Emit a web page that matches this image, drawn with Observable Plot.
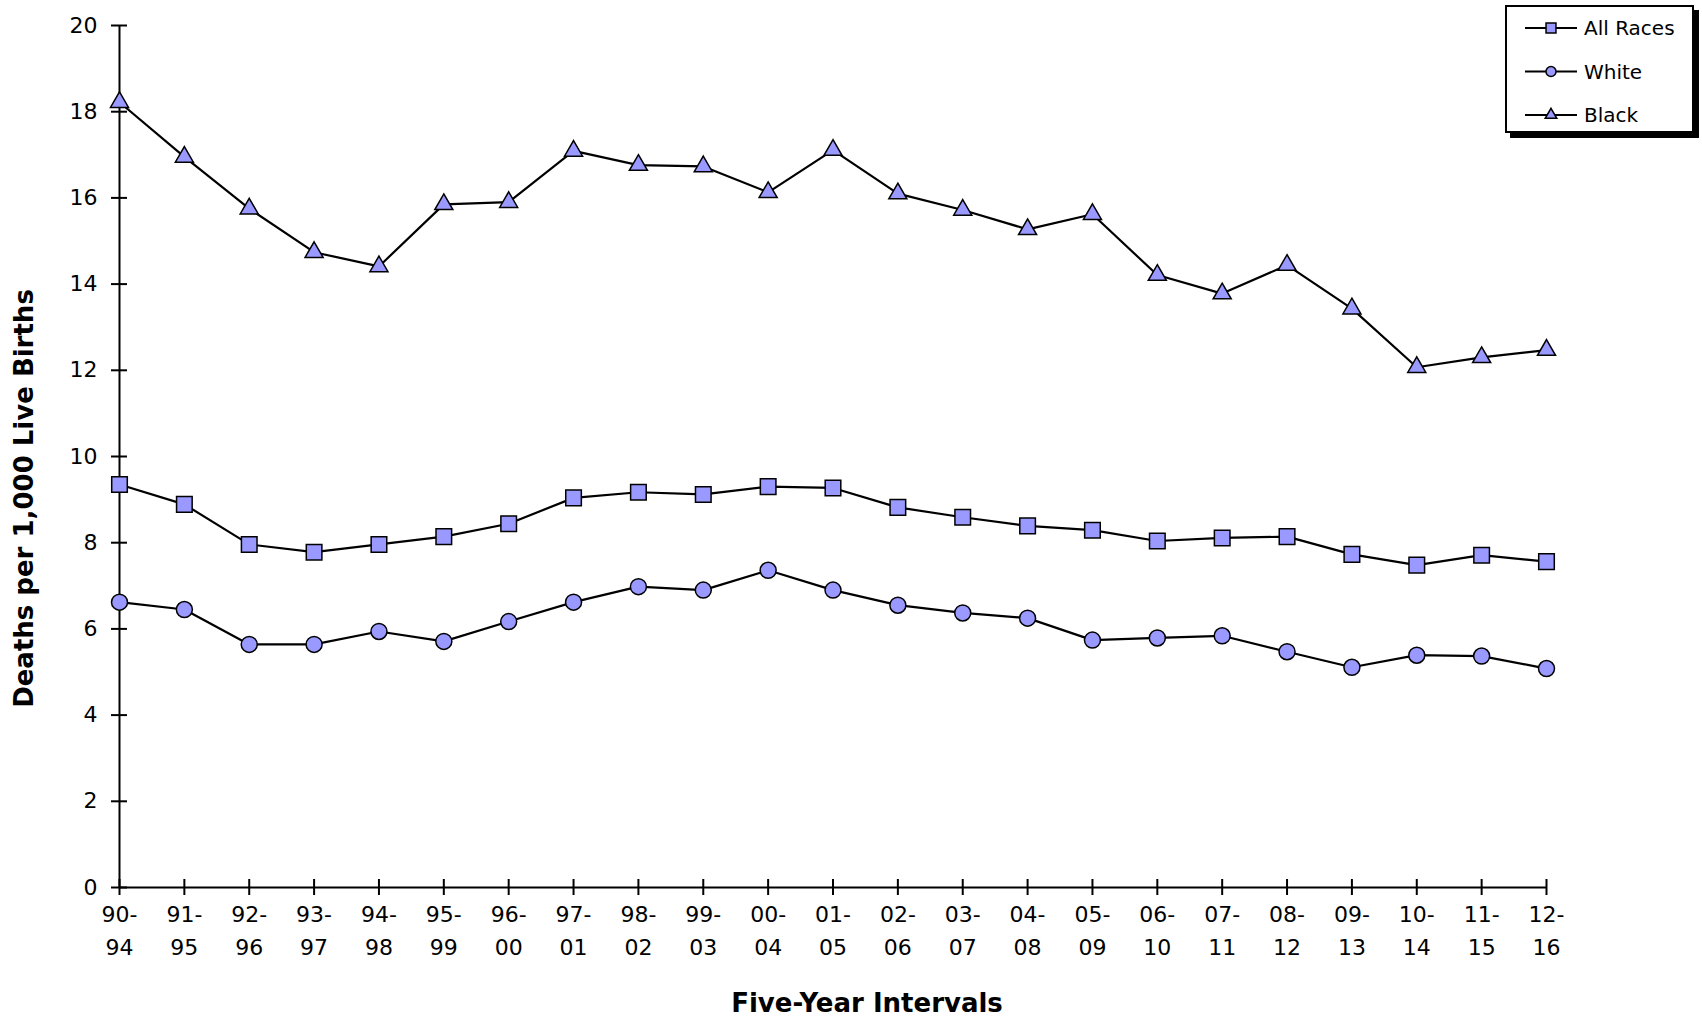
<!DOCTYPE html>
<html><head><meta charset="utf-8">
<script src="https://cdn.jsdelivr.net/npm/d3@7"></script>
<script src="https://cdn.jsdelivr.net/npm/@observablehq/plot@0.6"></script>
<style>
html,body{margin:0;padding:0;background:#fff;overflow:hidden;}
#wrap{position:relative;width:1702px;height:1023px;}
#legend{position:absolute;left:1505px;top:5px;width:185px;height:124px;border:2px solid #000;box-shadow:5px 5px 0 #000;background:#fff;}
</style></head>
<body><div id="wrap"><div id="legend"></div></div>
<script>
const intervals = ["90-94","91-95","92-96","93-97","94-98","95-99","96-00","97-01","98-02","99-03","00-04","01-05","02-06","03-07","04-08","05-09","06-10","07-11","08-12","09-13","10-14","11-15","12-16"];
const allRaces = [9.35,8.89,7.96,7.78,7.96,8.14,8.44,9.04,9.17,9.12,9.30,9.27,8.82,8.59,8.39,8.29,8.04,8.11,8.14,7.73,7.48,7.71,7.56];
const white    = [6.62,6.45,5.64,5.64,5.94,5.71,6.17,6.62,6.98,6.90,7.36,6.90,6.55,6.37,6.25,5.74,5.79,5.84,5.47,5.11,5.39,5.37,5.08];
const black    = [18.22,16.95,15.75,14.74,14.41,15.85,15.90,17.09,16.76,16.73,16.13,17.11,16.10,15.72,15.27,15.62,14.21,13.78,14.44,13.43,12.07,12.30,12.47];
const seriesNames = ["All Races","White","Black"];
const seriesSymbols = ["square","circle","triangle"];
const yTicks = [0,2,4,6,8,10,12,14,16,18,20];
const xTitle = "Five-Year Intervals";
const yTitle = "Deaths per 1,000 Live Births";

const seriesValues = [allRaces, white, black];
const rows = seriesNames.flatMap((s, i) => intervals.map((iv, j) => ({series: s, interval: iv, value: seriesValues[i][j]})));
const markerR = {"square": 8.8, "circle": 8, "triangle": 6.7};
const FILL = "#9999ff";

const chart = Plot.plot({
  width: 1702, height: 1023,
  marginLeft: 119, marginRight: 156, marginTop: 25, marginBottom: 136,
  style: {fontFamily: "DejaVu Sans", fontSize: "22px", color: "#000", background: "#fff"},
  x: {type: "point", domain: intervals, padding: 0, round: false, label: null},
  y: {domain: [0, 20], label: null},
  marks: [
    Plot.ruleY([0], {strokeWidth: 2}),
    Plot.ruleX([intervals[0]], {y1: 0, y2: 20, strokeWidth: 2}),
    Plot.axisY({ticks: yTicks, tickSize: 16, dx: 8, tickPadding: 14, strokeWidth: 2, label: null, fontSize: 22}),
    Plot.axisX({tickSize: 16, dy: -8, tickPadding: 3, strokeWidth: 2, label: null, fontSize: 22, lineHeight: 1.5, tickFormat: d => d.replace("-", "-\n")}),
    Plot.line(rows, {x: "interval", y: "value", z: "series", stroke: "#000", strokeWidth: 2.2}),
    ...seriesNames.map((s, i) => Plot.dot(rows.filter(d => d.series === s), {
      x: "interval", y: "value", symbol: seriesSymbols[i], r: markerR[seriesSymbols[i]],
      fill: FILL, stroke: "#000", strokeWidth: 1.5
    })),
    Plot.text([yTitle], {text: d => d, frameAnchor: "left", textAnchor: "middle", lineAnchor: "middle", dx: -95, dy: 42, rotate: -90, fontSize: 26, fontWeight: "bold"}),
    Plot.text([xTitle], {text: d => d, frameAnchor: "bottom", textAnchor: "middle", lineAnchor: "middle", dx: 34, dy: 116, fontSize: 26, fontWeight: "bold"})
  ]
});
const wrap = document.getElementById("wrap");
wrap.insertBefore(chart, wrap.firstChild);

// legend
const lg = d3.select("#legend").append("svg").attr("width", 185).attr("height", 124)
  .style("font-family", "DejaVu Sans").style("font-size", "20px");
const legendR = {"square": 5.6, "circle": 5, "triangle": 4.3};
seriesNames.forEach((s, i) => {
  const cy = 21 + i * 43.5;
  const g = lg.append("g").attr("transform", `translate(0,${cy})`);
  g.append("line").attr("x1", 18).attr("x2", 70).attr("y1", 0).attr("y2", 0).attr("stroke", "#000").attr("stroke-width", 2);
  const sym = {square: d3.symbolSquare, circle: d3.symbolCircle, triangle: d3.symbolTriangle}[seriesSymbols[i]];
  const r = legendR[seriesSymbols[i]];
  g.append("path").attr("transform", "translate(44,0)").attr("d", d3.symbol(sym, Math.PI * r * r)())
    .attr("fill", FILL).attr("stroke", "#000").attr("stroke-width", 1.5);
  g.append("text").attr("x", 77).attr("y", 0).attr("dy", "0.36em").text(s);
});
</script>
</body></html>
